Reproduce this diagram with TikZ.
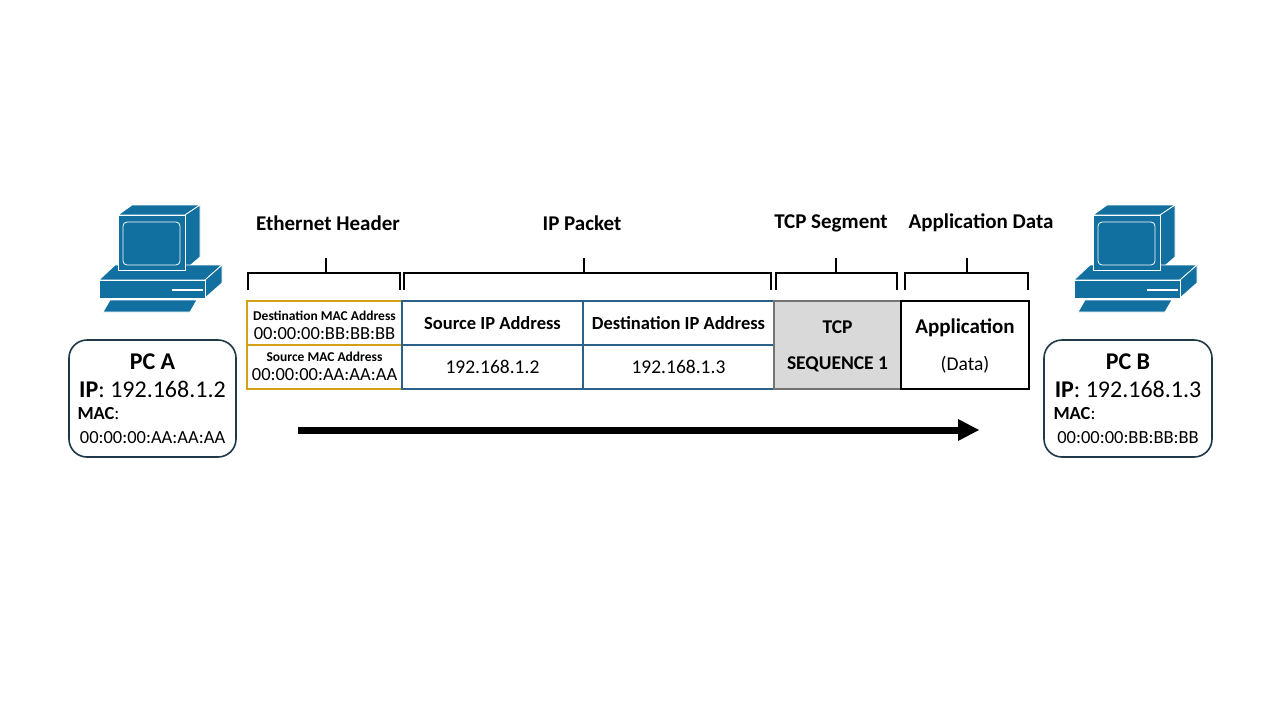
\documentclass[tikz,border=0pt]{standalone}
\usepackage{fontspec}
\setmainfont{Carlito}
\begin{document}
\begin{tikzpicture}[x=1pt,y=-1pt,
  pcblue/.style={fill=pcb,draw=white,line width=0.8pt,line join=round},
  lab/.style={font=\fontsize{21}{24}\selectfont\bfseries},
  brace/.style={line width=1.6pt},
  cell/.style={draw,line width=1.6pt,minimum height=44pt,inner sep=0pt,align=center},
  hostbox/.style={draw=hostc,line width=1.6pt,rounded corners=18pt},
  small/.style={font=\fontsize{13.5}{15}\selectfont\bfseries},
  mac/.style={font=\fontsize{18.5}{20}\selectfont},
]
\definecolor{pcb}{HTML}{1170A0}
\definecolor{orng}{HTML}{D4A017}
\definecolor{ipb}{HTML}{2A6189}
\definecolor{hostc}{HTML}{1E3848}
\useasboundingbox (0,0) rectangle (1280,720);
\newcommand\mypc[1]{%
\begin{scope}[shift={(#1,0)}]
 \filldraw[pcblue] (118,215)--(132,205)--(200,205)--(185,215)--cycle;
 \filldraw[pcblue] (185,215)--(200,205)--(200,257)--(185,270)--cycle;
 \filldraw[pcblue] (99,280)--(115,265)--(222,265)--(205,280)--cycle;
 \filldraw[pcblue] (205,280)--(222,265)--(222,283)--(205,298)--cycle;
 \filldraw[pcblue] (99,280) rectangle (205,298);
 \filldraw[pcblue] (118,215) rectangle (185,270);
 \draw[white,line width=0.8pt,rounded corners=4pt] (123,222) rectangle (180,265);
 \draw[white,line width=1.5pt] (172,290)--(203,290);
 \filldraw[pcblue] (103,312)--(110,300)--(197,300)--(190,312)--cycle;
\end{scope}}
\mypc{0}
\mypc{975}
% cells
\node[cell,draw=orng,minimum width=155pt] (dmac) at (324.5,323) {};
\node[cell,draw=orng,minimum width=155pt] (smac) at (324.5,367) {};
\node[small] (dmact) at (324.5,316) {Destination MAC Address};
\node[mac] (dmacv) at (324.5,334) {00:00:00:BB:BB:BB};
\node[small] (smact) at (324.5,357) {Source MAC Address};
\node[mac] (smacv) at (324.5,375) {00:00:00:AA:AA:AA};
\node[cell,draw=ipb,minimum width=181pt] (sip) at (492.5,323) {\fontsize{18.5}{20}\selectfont\bfseries Source IP Address};
\node[cell,draw=ipb,minimum width=181pt] (sipv) at (492.5,367) {\fontsize{19.5}{20}\selectfont 192.168.1.2};
\node[cell,draw=ipb,minimum width=191pt] (dip) at (678.5,323) {\fontsize{18.5}{20}\selectfont\bfseries Destination IP Address};
\node[cell,draw=ipb,minimum width=191pt] (dipv) at (678.5,367) {\fontsize{19.5}{20}\selectfont 192.168.1.3};
\node[cell,draw=gray!90!black,fill=gray!30,minimum width=127pt,minimum height=88pt] (tcp) at (837.5,345) {};
\node[font=\fontsize{19.5}{20}\selectfont\bfseries] (tcpt) at (837.5,327) {TCP};
\node[font=\fontsize{19.5}{20}\selectfont\bfseries] (tcps) at (837.5,364) {SEQUENCE 1};
\node[cell,draw=black,minimum width=128pt,minimum height=88pt] (app) at (965,345) {};
\node[font=\fontsize{21}{22}\selectfont\bfseries] (appt) at (965,328) {Application};
\node[font=\fontsize{19.5}{20}\selectfont] (appd) at (965,365) {(Data)};
% braces
\draw[brace] (248,290)--(248,273)--(400,273)--(400,290) (326,273)--(326,258);
\draw[brace] (404,290)--(404,273)--(771,273)--(771,290) (584,273)--(584,258);
\draw[brace] (776,290)--(776,273)--(897,273)--(897,290) (836,273)--(836,258);
\draw[brace] (905,290)--(905,273)--(1028,273)--(1028,290) (967,273)--(967,258);
\node[lab] (l1) at (328,223) {Ethernet Header};
\node[lab] (l2) at (582,223) {IP Packet};
\node[lab] (l3) at (831,223) {TCP Segment};
\node[lab] (l4) at (981,223) {Application Data};
% arrow
\coordinate (a0) at (298,430);
\coordinate (a1) at (958,430);
\draw[line width=7pt] (a0)--(a1);
\fill (958,419)--(979,430)--(958,441)--cycle;
% hosts
\draw[hostbox] (69,340) rectangle (236,457);
\draw[hostbox] (1044,340) rectangle (1212,457);
\node[font=\fontsize{24}{26}\selectfont\bfseries] (pa) at (152.5,362) {PC A};
\node[font=\fontsize{24}{26}\selectfont] (pai) at (152.5,389) {\textbf{IP}: 192.168.1.2};
\node[font=\fontsize{18.5}{20}\selectfont,anchor=west] (pam) at (74,414) {\textbf{MAC}:};
\node[font=\fontsize{18.5}{20}\selectfont] (pav) at (152.5,438) {00:00:00:AA:AA:AA};
\node[font=\fontsize{24}{26}\selectfont\bfseries] (pb) at (1128,362) {PC B};
\node[font=\fontsize{24}{26}\selectfont] (pbi) at (1128,389) {\textbf{IP}: 192.168.1.3};
\node[font=\fontsize{18.5}{20}\selectfont,anchor=west] (pbm) at (1050,414) {\textbf{MAC}:};
\node[font=\fontsize{18.5}{20}\selectfont] (pbv) at (1128,438) {00:00:00:BB:BB:BB};
\end{tikzpicture}
\end{document}
